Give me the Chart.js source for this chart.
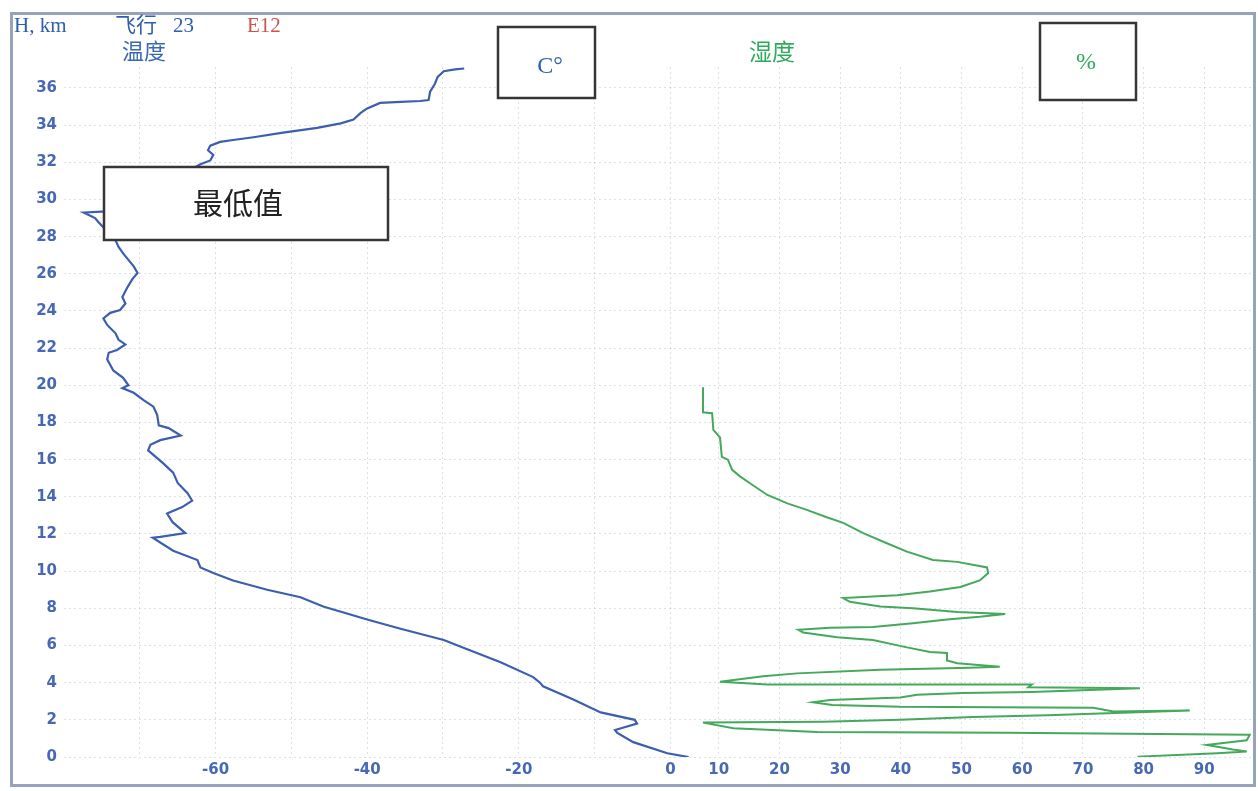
<!DOCTYPE html>
<html lang="zh">
<head>
<meta charset="utf-8">
<title>飞行 23 E12</title>
<script src="https://cdn.jsdelivr.net/npm/chart.js@4.4.1/dist/chart.umd.min.js"></script>
<style>
  html, body { margin: 0; padding: 0; background: #fff; }
  #chart { display: block; }
</style>
</head>
<body>
<canvas id="chart" width="1258" height="791"></canvas>
<script>
// --- DATA ---

// Temperature profile: height (km) and temperature (°C)
const tempKm = [0, 0.2, 0.8, 1.3, 1.45, 1.8, 2.0, 2.4, 3.1, 3.8, 4.0, 4.3, 5.1, 5.8, 6.3, 6.9,
  7.4, 8.1, 8.6, 9.0, 9.5, 9.9, 10.2, 10.6, 11.1, 11.8, 11.85, 12.05, 12.65, 13.1, 13.45, 13.8,
  14.2, 14.75, 15.3, 15.8, 16.5, 16.8, 17.05, 17.3, 17.7, 17.85, 18.4, 18.85, 19.2, 19.6, 19.85,
  20.0, 20.4, 20.8, 21.4, 21.75, 21.9, 22.2, 22.45, 22.8, 23.25, 23.6, 23.9, 24.05, 24.4, 24.75,
  25.3, 25.7, 26.05, 26.4, 26.75, 27.1, 27.45, 27.8, 28.2, 28.5, 28.8, 29.0, 29.3, 29.35, 29.4,
  31.0, 31.9, 32.1, 32.4, 32.65, 32.9, 33.1, 33.2, 33.35, 33.6, 33.85, 34.1, 34.3, 34.65, 34.9,
  35.2, 35.25, 35.3, 35.35, 35.8, 36.2, 36.6, 36.9, 37.0, 37.05];
const tempC = [2.4, -0.4, -4.9, -7.0, -7.3, -4.4, -4.7, -9.2, -12.8, -16.8, -17.2, -18.1, -22.4, -26.8, -29.9, -35.6,
  -40, -45.8, -48.8, -53.2, -57.7, -60.3, -62, -62.4, -65.6, -68.3, -67.3, -64, -65.7, -66.4, -64.4, -63.1,
  -63.7, -65, -65.6, -66.9, -68.9, -68.6, -67.3, -64.6, -66.2, -67.5, -67.7, -68.2, -69.5, -70.8, -72.3,
  -71.5, -72.2, -73.5, -74.3, -74.1, -73, -71.9, -72.8, -73.2, -74.3, -74.8, -73.9, -72.6, -71.9, -72.3,
  -71.6, -71, -70.3, -70.8, -71.5, -72.2, -72.8, -73.2, -73.9, -74.8, -75.5, -75.9, -77.4, -75.0, -73,
  -66, -62, -60.7, -60.3, -61, -60.7, -59.4, -57.7, -55, -51.1, -46.6, -43.5, -41.8, -40.9, -40,
  -38.3, -35.6, -33, -31.9, -31.7, -31.1, -30.7, -29.9, -28.4, -27.2];

// Humidity profile: height (km) and relative humidity (%)
const humKm = [0.02, 0.2, 0.3, 0.4, 0.5, 0.65, 0.8, 0.9, 1.2, 1.3, 1.35, 1.55, 1.85, 1.9, 2.0, 2.1,
  2.15, 2.25, 2.5, 2.45, 2.65, 2.7, 2.8, 2.95, 3.07, 3.2, 3.35, 3.45, 3.5, 3.7, 3.75, 3.9, 3.9,
  4.05, 4.35, 4.5, 4.7, 4.8, 4.85, 5.05, 5.2, 5.6, 5.65, 5.9, 6.3, 6.45, 6.7, 6.85, 6.95, 7.0,
  7.2, 7.4, 7.55, 7.7, 7.8, 8.0, 8.1, 8.35, 8.55, 8.7, 8.9, 9.15, 9.5, 9.9, 10.2, 10.5, 10.6,
  11.05, 11.5, 12.05, 12.6, 12.9, 13.3, 13.65, 14.1, 14.65, 15.1, 15.45, 16.0, 16.15, 17.2, 17.6,
  18.5, 18.55, 19.9];
const humPct = [79, 92.1, 97, 94.7, 93.1, 90.4, 94.2, 97, 97.5, 57.5, 26.2, 12.4, 7.4, 27.2, 39.9, 47.6,
  51.9, 64.1, 87.6, 75, 71.7, 39.9, 28.7, 25.5, 28.3, 39.9, 42.7, 50.2, 61.5, 79.4, 61, 61.6, 18,
  10.2, 17.3, 22.9, 36.6, 51.4, 56.3, 49.3, 47.6, 47.6, 44.8, 41, 35.4, 29.5, 23.9, 23.1, 28.3, 35.4,
  42, 47.6, 53, 57.2, 49.3, 42, 36.6, 31.6, 30.5, 39.4, 44.8, 49.8, 53, 54.4, 54.2, 49.3, 45.3,
  41, 37.7, 33.8, 30.5, 27.8, 24.5, 21.3, 18.0, 15.5, 13.5, 12.2, 11.5, 10.5, 10.2, 9.1,
  8.9, 7.4, 7.4];

// Tick values / labels
const heightTicks = [0, 2, 4, 6, 8, 10, 12, 14, 16, 18, 20, 22, 24, 26, 28, 30, 32, 34, 36];
const tempGrid = [-70, -60, -50, -40, -30, -20, -10, 0];
const tempLabels = [-60, -40, -20, 0];
const humTicks = [10, 20, 30, 40, 50, 60, 70, 80, 90];

// --- WARNA & FONT ---
const BLUE = '#3b5fae';
const GREEN = '#45a95b';
const TICK_BLUE = '#4768b4';
const GRID = 'rgba(165,178,200,0.4)';
const tickFont = { family: "'DejaVu Sans', sans-serif", size: 15, weight: 'bold' };
const SERIF = "'Liberation Serif', 'Noto Sans CJK SC', serif";

// Frame, boxes, header texts and temperature tick labels
const decorPlugin = {
  id: 'decor',
  beforeDraw(chart) {
    const ctx = chart.ctx;
    ctx.save();
    ctx.fillStyle = '#fff';
    ctx.fillRect(0, 0, chart.width, chart.height);
    ctx.restore();
  },
  afterDraw(chart) {
    const ctx = chart.ctx;
    ctx.save();

    // temperature labels share the same line as the humidity labels
    const xT = chart.scales.xT;
    ctx.font = `${tickFont.weight} ${tickFont.size}px ${tickFont.family}`;
    ctx.fillStyle = TICK_BLUE;
    ctx.textAlign = 'center';
    ctx.textBaseline = 'top';
    tempLabels.forEach(v => {
      ctx.fillText(String(v), xT.getPixelForValue(v), chart.chartArea.bottom + 6);
    });

    // outer frame
    ctx.strokeStyle = '#98a2ba';
    ctx.lineWidth = 3;
    ctx.strokeRect(11.5, 13.5, 1243, 772);

    // boxes
    ctx.strokeStyle = '#363636';
    ctx.lineWidth = 2.5;
    ctx.fillStyle = '#fff';
    [[104, 167, 284, 73], [498, 27, 97, 71], [1040, 23, 96, 77]].forEach(([x, y, w, h]) => {
      ctx.fillRect(x, y, w, h);
      ctx.strokeRect(x, y, w, h);
    });

    ctx.textBaseline = 'alphabetic';
    ctx.textAlign = 'left';
    ctx.font = '21px ' + SERIF;
    ctx.fillStyle = '#2e5fad';
    ctx.fillText('H, km', 14, 32);
    ctx.fillText('飞行', 115, 32);
    ctx.fillText('23', 173, 32);
    ctx.fillStyle = '#d0524d';
    ctx.fillText('E12', 247, 32);

    ctx.textAlign = 'center';
    ctx.font = '22px ' + SERIF;
    ctx.fillStyle = '#3a67b5';
    ctx.fillText('温度', 144, 59);
    ctx.fillStyle = '#2faa5c';
    ctx.font = '23px ' + SERIF;
    ctx.fillText('湿度', 772, 60);

    ctx.font = '24px ' + SERIF;
    ctx.fillStyle = '#2e5fad';
    ctx.fillText('C°', 550, 73);
    ctx.fillStyle = '#2faa5c';
    ctx.fillText('%', 1086, 69);

    ctx.font = "30px 'Noto Sans CJK SC', sans-serif";
    ctx.fillStyle = '#222';
    ctx.fillText('最低值', 238, 214);

    ctx.restore();
  }
};

const ctx = document.getElementById('chart').getContext('2d');
new Chart(ctx, {
  type: 'scatter',
  data: {
    datasets: [
      {
        label: '温度',
        data: tempKm.map((h, i) => ({ x: tempC[i], y: h })),
        xAxisID: 'xT',
        showLine: true,
        borderColor: BLUE,
        borderWidth: 2.2,
        pointRadius: 0,
        tension: 0
      },
      {
        label: '湿度',
        data: humKm.map((h, i) => ({ x: humPct[i], y: h })),
        xAxisID: 'xH',
        showLine: true,
        borderColor: GREEN,
        borderWidth: 2,
        pointRadius: 0,
        tension: 0
      }
    ]
  },
  options: {
    responsive: false,
    devicePixelRatio: 1,
    animation: false,
    layout: { padding: { top: 67, right: 7, bottom: 0, left: 0 } },
    plugins: { legend: { display: false }, tooltip: { enabled: false } },
    scales: {
      y: {
        type: 'linear',
        position: 'left',
        min: 0,
        max: 37.13,
        afterBuildTicks: s => { s.ticks = heightTicks.map(v => ({ value: v })); },
        afterFit: s => { s.width = 64; },
        ticks: { color: TICK_BLUE, font: tickFont, padding: 7, autoSkip: false },
        grid: { color: GRID, drawTicks: false },
        border: { display: false, dash: [2, 3] }
      },
      xH: {
        type: 'linear',
        position: 'bottom',
        weight: 0,
        min: -97.9,
        max: 97.7,
        afterBuildTicks: s => { s.ticks = humTicks.map(v => ({ value: v })); },
        afterFit: s => { s.height = 34; },
        ticks: { color: TICK_BLUE, font: tickFont, padding: 4, autoSkip: false, maxRotation: 0 },
        grid: { color: GRID, drawTicks: false },
        border: { display: false, dash: [2, 3] }
      },
      xT: {
        type: 'linear',
        position: 'bottom',
        weight: 1,
        min: -80,
        max: 76.6,
        afterBuildTicks: s => { s.ticks = tempGrid.map(v => ({ value: v })); },
        afterFit: s => { s.height = 0; },
        ticks: { display: false },
        grid: { color: GRID, drawTicks: false },
        border: { display: false, dash: [2, 3] }
      }
    }
  },
  plugins: [decorPlugin]
});
</script>
</body>
</html>
